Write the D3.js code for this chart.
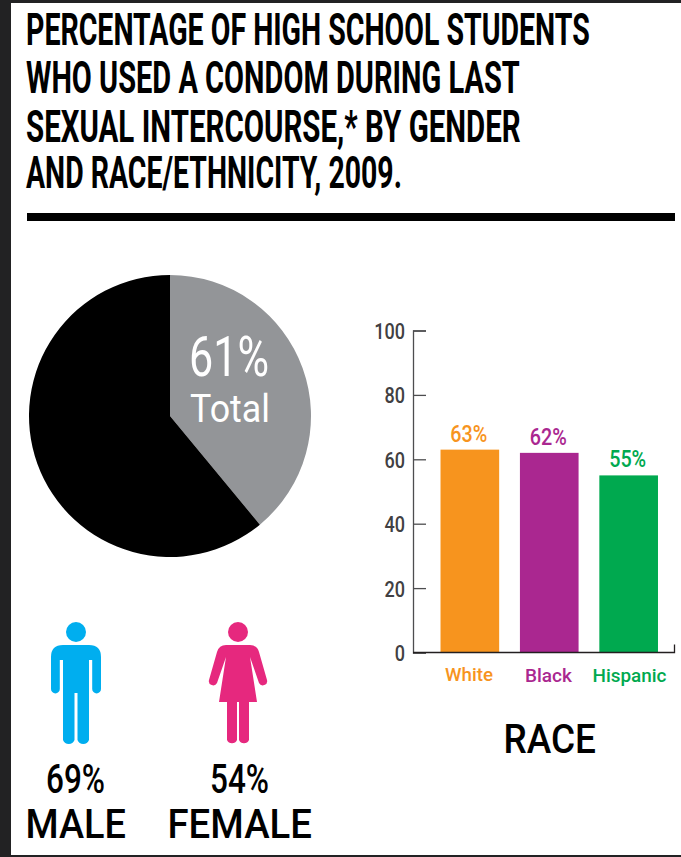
<!DOCTYPE html>
<html>
<head>
<meta charset="utf-8">
<style>
  html, body { margin: 0; padding: 0; background: #222223; overflow: hidden; }
  svg { display: block; }
  text { font-family: Roboto, "Noto Sans", sans-serif; }
</style>
<script src="https://cdn.jsdelivr.net/npm/d3@7/dist/d3.min.js"></script>
</head>
<body>
<script>
// Headline
const titleLines = [
  "PERCENTAGE OF HIGH SCHOOL STUDENTS",
  "WHO USED A CONDOM DURING LAST",
  "SEXUAL INTERCOURSE,* BY GENDER",
  "AND RACE/ETHNICITY, 2009."
];
const titleWidths = [563, 493, 494, 375];
const titleBaselines = [45, 93, 142, 188];

// Overall share, split into the reported part and the remainder
const totalLabel = "61%";
const totalCaption = "Total";
const totalParts = [39, 61];
const totalColors = ["#939598", "#000000"];

// Gender
const genders = ["MALE", "FEMALE"];
const genderValues = ["69%", "54%"];
const genderColors = ["#00aeef", "#e6287e"];

// Race/ethnicity
const races = ["White", "Black", "Hispanic"];
const raceValues = [63, 62, 55];
const raceColors = ["#f7941e", "#aa2790", "#00a94f"];
const yTicks = [0, 20, 40, 60, 80, 100];
const raceTitle = "RACE";

const W = 681, H = 857;
const svg = d3.select("body").append("svg").attr("width", W).attr("height", H);

svg.append("rect").attr("x", 11).attr("y", 3).attr("width", W - 11).attr("height", 852).attr("fill", "#fff");

// Text narrowed horizontally to a measured width, since no DIN-style condensed face is installed
function fitted(sel, str, x, y, size, width, weight, fill) {
  const t = sel.append("text")
    .attr("font-size", size).attr("font-weight", weight)
    .attr("fill", fill)
    .text(str);
  const sx = width / t.node().getComputedTextLength();
  t.attr("transform", `translate(${x},${y}) scale(${sx},1)`);
  return t;
}

titleLines.forEach((t, i) => fitted(svg, t, 26, titleBaselines[i], 44, titleWidths[i] + 1, 700, "#000"));
svg.append("rect").attr("x", 27).attr("y", 213).attr("width", 648).attr("height", 8).attr("fill", "#000");

// Pie
const pieG = svg.append("g").attr("transform", "translate(170,416)");
const arc = d3.arc().innerRadius(0).outerRadius(141);
pieG.selectAll("path").data(d3.pie().sort(null)(totalParts)).join("path")
  .attr("d", arc).attr("fill", (d, i) => totalColors[i]);
fitted(svg, totalLabel, 189, 376, 55, 80, 400, "#fff");
fitted(svg, totalCaption, 190, 422, 38, 80, 400, "#fff");

// Pictograms, drawn around a local origin at the centre of the head
function male(g, c) {
  g.append("circle").attr("r", 10).attr("fill", c);
  g.append("path").attr("fill", c).attr("d",
    "M-25,25 Q-25,13 -13,13 H13 Q25,13 25,25 V57 a4.4,4.4 0 0 1 -8.8,0 V28 h-3.2 V108" +
    " a6.2,6.2 0 0 1 -11.5,0 V61 h-3 V108 a6.2,6.2 0 0 1 -11.5,0 V28 h-3.2 V57 a4.4,4.4 0 0 1 -8.8,0 Z");
}
function female(g, c) {
  g.append("circle").attr("r", 10).attr("fill", c);
  g.append("path").attr("fill", c).attr("d",
    "M-12,13 H12 Q19,13 21,20 L29,48 a4.3,4.3 0 0 1 -8,3 L12,25 L19,70 H11 V108 a5.5,5.5 0 0 1 -10,0 V70 H-1 V108 a5.5,5.5 0 0 1 -10,0 V70 H-19 L-12,25 L-21,51 a4.3,4.3 0 0 1 -8,-3 L-21,20 Q-19,13 -12,13 Z");
}
const iconX = [76, 238];
[male, female].forEach((draw, i) => {
  draw(svg.append("g").attr("transform", `translate(${iconX[i]},632)`), genderColors[i]);
});
const valueSpan = [[46, 59], [210, 59]];
const nameSpan = [[25.5, 100.5], [167.5, 144.5]];
genders.forEach((g, i) => {
  fitted(svg, genderValues[i], valueSpan[i][0], 793, 40, valueSpan[i][1], 500, "#000");
  fitted(svg, g, nameSpan[i][0], 838, 40, nameSpan[i][1], 500, "#000");
});

// Bar chart
const y = d3.scaleLinear().domain([0, 100]).range([652.5, 330.5]);
const x = d3.scaleBand().domain(races).range([426.5, 672]).paddingInner(0.2615).paddingOuter(0.1765);

const yAxis = d3.axisLeft(y).tickValues(yTicks).tickSize(-13).tickPadding(8);
const axisG = svg.append("g").attr("transform", "translate(413,0)").call(yAxis);
axisG.select(".domain").attr("stroke", "#4d4d4f").attr("stroke-width", 1.3);
axisG.selectAll(".tick line").attr("stroke", "#4d4d4f").attr("stroke-width", 1.3);
axisG.selectAll(".tick text")
  .attr("font-size", 22).attr("font-family", "Roboto").attr("fill", "#414042")
  .attr("font-weight", 500).attr("dy", "0.36em")
  .attr("x", 0).attr("transform", "translate(-8,0) scale(0.82,1)");

svg.selectAll("rect.bar").data(races).join("rect").attr("class", "bar")
  .attr("x", d => x(d)).attr("width", x.bandwidth())
  .attr("y", (d, i) => y(raceValues[i]))
  .attr("height", (d, i) => y(0) - y(raceValues[i]))
  .attr("fill", (d, i) => raceColors[i]);

// Baseline with its closing tick on the right
svg.append("path").attr("fill", "none").attr("stroke", "#231f20").attr("stroke-width", 1.3)
  .attr("d", `M413,${y(0)} H674.5 V${y(0) - 8}`);

const valueW = 37, nameX = [445, 525, 592.5], nameW = [48, 47, 74], nameY = [680.5, 682, 682];
races.forEach((r, i) => {
  const cx = x(r) + x.bandwidth() / 2;
  fitted(svg, raceValues[i] + "%", cx - 1 - valueW / 2, y(raceValues[i]) - 8, 24, valueW, 500, raceColors[i]);
  fitted(svg, r, nameX[i], nameY[i], 19, nameW[i], 500, raceColors[i]);
});
fitted(svg, raceTitle, 503.5, 753, 40, 92.5, 500, "#000");
</script>
</body>
</html>
